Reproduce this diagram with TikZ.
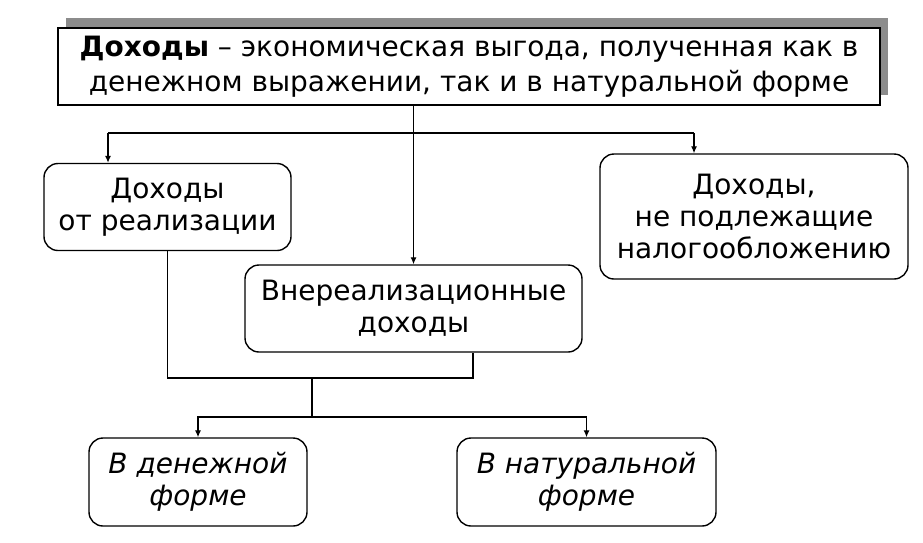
\documentclass[tikz,border=0pt]{standalone}
\usepackage{fontspec}
\setmainfont{DejaVu Sans}
\usetikzlibrary{arrows.meta,shadows}

\begin{document}
\begin{tikzpicture}[x=1pt, y=-1pt,
    box/.style={draw=black, line width=1.4pt, rounded corners=14pt,
        align=center, inner sep=0pt, font=\fontsize{28}{32}\selectfont},
    topbox/.style={draw=black, line width=1.4pt, fill=white, align=center,
        inner sep=0pt, minimum width=822pt, minimum height=77pt,
        font=\fontsize{28}{35}\selectfont,
        drop shadow={shadow xshift=8pt, shadow yshift=10pt,
            fill=black!45, opacity=1}},
    link/.style={line width=1.2pt},
    arr/.style={line width=1.2pt, -{Latex[length=7pt, width=6pt]}}]
    \useasboundingbox (0, 0) rectangle (923, 542);

    \draw (469, 66.5) node
          [topbox] (def)
          {\textbf{Доходы} – экономическая выгода, полученная как в\\
           денежном выражении, так и в натуральной форме};

    \draw (167.5, 207) node
          [box, minimum width=247pt, minimum height=87pt] (sales)
          {Доходы\\от реализации};
    \draw (413.5, 308.5) node
          [box, minimum width=337pt, minimum height=87pt] (nonsales)
          {Внереализационные\\доходы};
    \draw (754, 216.5) node
          [box, minimum width=308pt, minimum height=125pt] (untaxed)
          {Доходы,\\не подлежащие\\налогообложению};

    \draw (198, 482) node
          [box, minimum width=218pt, minimum height=88pt] (cash)
          {\itshape В денежной\\\itshape форме};
    \draw (586.5, 482) node
          [box, minimum width=259pt, minimum height=88pt] (kind)
          {\itshape В натуральной\\\itshape форме};

    \coordinate (split) at (413.5, 133);
    \coordinate (toleft) at (108, 133);
    \coordinate (toright) at (694, 133);
    \coordinate (merge) at (473, 378);
    \coordinate (join) at (312, 378);
    \coordinate (forms) at (312, 417);

    \draw [arr] (def.south -| nonsales.north) -- (nonsales.north);
    \draw [link] (toleft) -- (toright);
    \draw [arr] (toleft) -- (toleft |- sales.north);
    \draw [arr] (toright) -- (toright |- untaxed.north);
    \draw [link] (sales.south) |- (merge) -- (merge |- nonsales.south);
    \draw [link] (join) -- (forms);
    \draw [arr] (forms) -| (cash.north);
    \draw [arr] (forms) -| (kind.north);
\end{tikzpicture}
\end{document}
